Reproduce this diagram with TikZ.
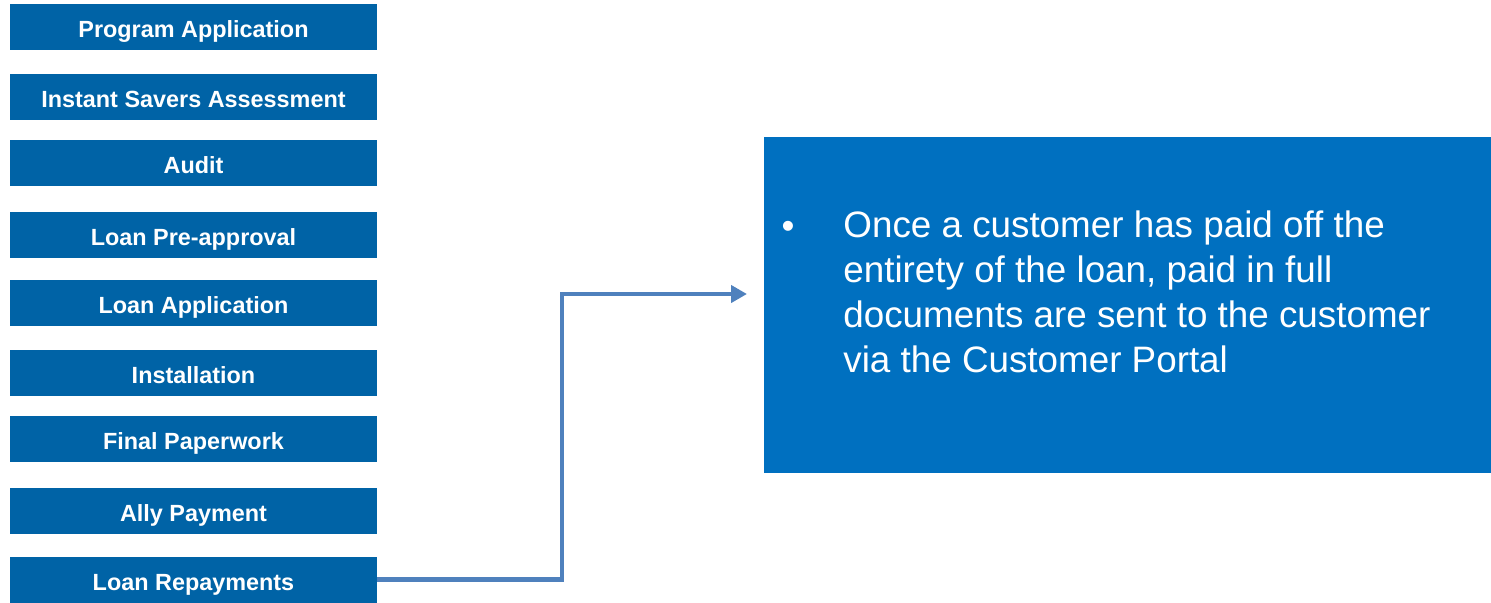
\documentclass[tikz,border=0pt]{standalone}
\usepackage{fontspec}
\setmainfont{Liberation Sans}
\usepackage{tikz}
\usetikzlibrary{calc,positioning,arrows.meta}
\definecolor{stepblue}{RGB}{0,99,166}
\definecolor{notebox}{RGB}{0,112,192}
\definecolor{linkblue}{RGB}{79,129,189}
\begin{document}
\begin{tikzpicture}[x=0.5pt,y=-0.5pt,
		stage/.style={fill=stepblue,text=white,inner sep=0pt,minimum width=183.5pt,minimum height=23pt,
			font=\fontsize{11.7}{13}\selectfont\bfseries,text height=10.5pt,text depth=0pt},
		link/.style={draw=linkblue,line width=2.3pt,-{Triangle[length=8pt,width=8.5pt]}}]
		\useasboundingbox (0,0) rectangle (1491,602);
		% process stages
		\node(prog) [stage] at (193.5,27) {Program Application};
		\node(isa) [stage] at (193.5,96.5) {Instant Savers Assessment};
		\node(audit) [stage] at (193.5,163) {Audit};
		\node(preapp) [stage] at (193.5,235) {Loan Pre-approval};
		\node(loanapp) [stage] at (193.5,303) {Loan Application};
		\node(install) [stage] at (193.5,373) {Installation};
		\node(paper) [stage] at (193.5,439) {Final Paperwork};
		\node(ally) [stage] at (193.5,511) {Ally Payment};
		\node(repay) [stage] at (193.5,579.5) {Loan Repayments};
		% detail panel
		\node(detail) [fill=notebox,inner sep=0pt,minimum width=363.5pt,minimum height=168pt] at (1127.5,305) {};
		\node(dot) [text=white,anchor=base,inner sep=0pt,font=\fontsize{18.4}{22.35}\selectfont] at (788,238) {•};
		\node(desc) [text=white,anchor=base west,inner sep=0pt,align=left,font=\fontsize{18.4}{22.35}\selectfont] at (843,372)
			{Once a customer has paid off the\\entirety of the loan, paid in full\\documents are sent to the customer\\via the Customer Portal};
		\coordinate (bend) at (562,294);
		\coordinate (tip) at (747,294);
		\draw[link] (repay.east) -| (bend) -- (tip);
	\end{tikzpicture}
\end{document}
